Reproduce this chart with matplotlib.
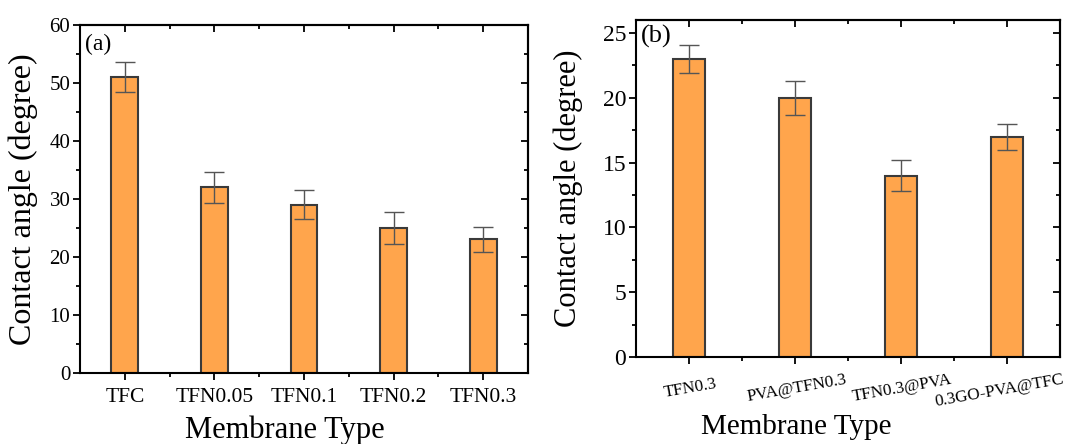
import matplotlib
matplotlib.use("Agg")
import matplotlib.pyplot as plt
import matplotlib.transforms as mtransforms
from matplotlib.ticker import MultipleLocator, FixedLocator, NullFormatter

plt.rcParams['font.family'] = ['Liberation Serif', 'DejaVu Serif']

cats_a = ["TFC", "TFN0.05", "TFN0.1", "TFN0.2", "TFN0.3"]
vals_a = [51, 32, 29, 25, 23]
errs_a = [2.6, 2.65, 2.55, 2.7, 2.1]

cats_b = ["TFN0.3", "PVA@TFN0.3", "TFN0.3@PVA", "0.3GO-PVA@TFC"]
vals_b = [23, 20, 14, 17]
errs_b = [1.1, 1.3, 1.2, 1.0]

bar_color = "#FFA54C"
edge_color = "#3a3a3a"

fig = plt.figure(figsize=(10.7, 4.44), dpi=100)
ax_a = fig.add_axes([0.0748, 0.160, 0.4187, 0.7843])
ax_b = fig.add_axes([0.5944, 0.196, 0.3963, 0.759])


def style(ax, n, ymax, major, minor, ytick_size, xtick_size):
    x = list(range(1, n + 1))
    ax.set_xlim(0.5, n + 0.5)
    ax.set_ylim(0, ymax)
    ax.yaxis.set_major_locator(MultipleLocator(major))
    ax.yaxis.set_minor_locator(MultipleLocator(minor))
    ax.xaxis.set_major_locator(FixedLocator(x))
    ax.xaxis.set_minor_locator(FixedLocator([i + 0.5 for i in range(1, n)]))
    ax.tick_params(axis='both', which='major', direction='out', length=5, width=1.3,
                   color='black')
    ax.tick_params(axis='both', which='minor', direction='out', length=3, width=1.3)
    ax.tick_params(axis='y', labelsize=ytick_size, pad=2)
    ax.tick_params(axis='x', labelsize=xtick_size, pad=6)
    for s in ax.spines.values():
        s.set_linewidth(1.5)
    top = ax.secondary_xaxis('top')
    top.xaxis.set_major_locator(FixedLocator(x))
    top.xaxis.set_minor_locator(FixedLocator([i + 0.5 for i in range(1, n)]))
    top.tick_params(which='major', direction='in', length=5, width=1.3, labeltop=False)
    top.tick_params(which='minor', direction='in', length=3, width=1.3)
    top.xaxis.set_major_formatter(NullFormatter())
    top.spines['top'].set_linewidth(1.5)
    right = ax.secondary_yaxis('right')
    right.yaxis.set_major_locator(MultipleLocator(major))
    right.yaxis.set_minor_locator(MultipleLocator(minor))
    right.tick_params(which='major', direction='in', length=5, width=1.3, labelright=False)
    right.tick_params(which='minor', direction='in', length=3, width=1.3)
    right.yaxis.set_major_formatter(NullFormatter())
    right.spines['right'].set_linewidth(1.5)


# Panel (a)
xa = list(range(1, len(cats_a) + 1))
ax_a.bar(xa, vals_a, width=0.3, color=bar_color, edgecolor=edge_color, linewidth=1.5, zorder=2)
ax_a.errorbar(xa, vals_a, yerr=errs_a, fmt='none', ecolor='#555555', elinewidth=1.0,
              capsize=7, capthick=1.0, zorder=3)
ax_a.set_xticks(xa)
ax_a.set_xticklabels(cats_a)
style(ax_a, len(cats_a), 60, 10, 5, 15, 15.5)
ax_a.set_ylabel("Contact angle (degree)", fontsize=23)
ax_a.yaxis.set_label_coords(-0.094, 0.5)
ax_a.set_xlabel("Membrane Type", fontsize=22)
ax_a.xaxis.set_label_coords(0.458, -0.122)
ax_a.text(0.012, 0.975, "(a)", transform=ax_a.transAxes, fontsize=17, va='top', ha='left')

# Panel (b)
xb = list(range(1, len(cats_b) + 1))
ax_b.bar(xb, vals_b, width=0.3, color=bar_color, edgecolor=edge_color, linewidth=1.5, zorder=2)
ax_b.errorbar(xb, vals_b, yerr=errs_b, fmt='none', ecolor='#555555', elinewidth=1.0,
              capsize=7, capthick=1.0, zorder=3)
ax_b.set_xticks(xb)
ax_b.set_xticklabels(cats_b, rotation=10, ha='center', rotation_mode='anchor')
style(ax_b, len(cats_b), 26, 5, 2.5, 17, 12.3)
ax_b.tick_params(axis='x', pad=12)
last = ax_b.get_xticklabels()[-1]
last.set_transform(last.get_transform() +
                   mtransforms.ScaledTranslation(-9 / 100, -2 / 100, fig.dpi_scale_trans))
ax_b.set_ylabel("Contact angle (degree)", fontsize=22)
ax_b.yaxis.set_label_coords(-0.125, 0.5)
ax_b.set_xlabel("Membrane Type", fontsize=21)
ax_b.xaxis.set_label_coords(0.377, -0.17)
ax_b.text(0.012, 0.985, "(b)", transform=ax_b.transAxes, fontsize=19, va='top', ha='left')

fig.savefig("out.png", dpi=100)
